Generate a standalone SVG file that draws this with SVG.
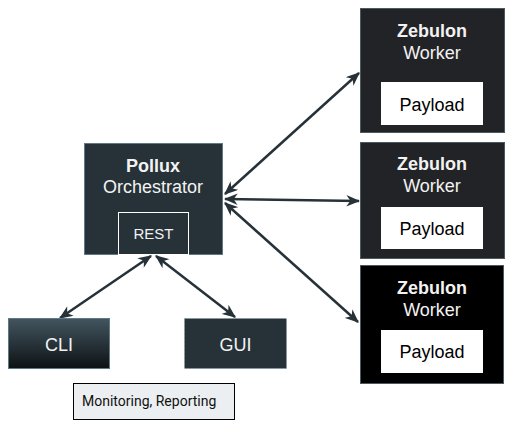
<svg xmlns="http://www.w3.org/2000/svg" width="510" height="423" viewBox="0 0 510 423">
<style>
.t{font-family:"Liberation Sans",Arial,sans-serif;fill:#f2f2f2;text-anchor:middle;font-size:18px}
.b{font-weight:bold}
.dk{font-family:"Liberation Sans",Arial,sans-serif;fill:#000;text-anchor:middle;font-size:18px}
.c{fill:none;stroke:#263238;stroke-width:2.5}
</style>
<defs>
<marker id="ah" viewBox="0 0 12 10" refX="11" refY="5" markerWidth="5.6" markerHeight="4.6" orient="auto-start-reverse" markerUnits="strokeWidth">
<path d="M0,0 L12,5 L0,10 L3.5,5 z" fill="#263238"/>
</marker>
<linearGradient id="cg" x1="0" y1="0" x2="0" y2="1">
<stop offset="0" stop-color="#435560"/>
<stop offset="1" stop-color="#0d1214"/>
</linearGradient>
</defs>
<rect width="510" height="423" fill="#fff"/>
<g id="connectors">
<line class="c" x1="225" y1="194" x2="359" y2="73" marker-start="url(#ah)" marker-end="url(#ah)"/>
<line class="c" x1="225" y1="199" x2="359" y2="201" marker-start="url(#ah)" marker-end="url(#ah)"/>
<line class="c" x1="225" y1="203" x2="358" y2="322" marker-start="url(#ah)" marker-end="url(#ah)"/>
<line class="c" x1="151" y1="256" x2="60" y2="318" marker-start="url(#ah)" marker-end="url(#ah)"/>
<line class="c" x1="156" y1="256" x2="235" y2="317" marker-start="url(#ah)" marker-end="url(#ah)"/>
</g>
<g id="pollux">
<rect x="84.5" y="143.5" width="138" height="111" fill="#263238" stroke="#5f7a86"/>
<text class="t b" x="153" y="172">Pollux</text>
<text class="t" x="153" y="193">Orchestrator</text>
</g>
<g id="rest">
<rect x="118.5" y="212.5" width="70" height="42" fill="#263238" stroke="#ffffff"/>
<text class="t" x="153.5" y="239" style="font-size:15px">REST</text>
</g>
<g id="cli">
<rect x="8.5" y="318.5" width="101" height="50" fill="url(#cg)" stroke="#5f7a86"/>
<text class="t" x="59" y="351">CLI</text>
</g>
<g id="gui">
<rect x="184.5" y="318.5" width="102" height="50" fill="#263238" stroke="#7f97a2" stroke-dasharray="1.5 2.5"/>
<text class="t" x="235.5" y="351">GUI</text>
</g>
<g id="monitoring">
<rect x="73.5" y="383.5" width="161" height="36" fill="#eceff1" stroke="#000"/>
<text x="82" y="406" font-family="Roboto,'Liberation Sans',sans-serif" font-size="14" fill="#111">Monitoring, Reporting</text>
</g>
<g id="worker1">
<rect x="360.5" y="8.5" width="144" height="124" fill="#222326" stroke="#4a5a63"/>
<text class="t b" x="432" y="37">Zebulon</text>
<text class="t" x="432" y="59">Worker</text>
<rect x="381" y="82" width="102" height="43" fill="#fff"/>
<text class="dk" x="432" y="111">Payload</text>
</g>
<g id="worker2">
<rect x="360.5" y="142.5" width="144" height="116" fill="#222326" stroke="#4a5a63"/>
<text class="t b" x="432" y="170">Zebulon</text>
<text class="t" x="432" y="192">Worker</text>
<rect x="381" y="207" width="102" height="42" fill="#fff"/>
<text class="dk" x="432" y="235">Payload</text>
</g>
<g id="worker3">
<rect x="360.5" y="265.5" width="143" height="118" fill="#000" stroke="#4a5a63"/>
<text class="t b" x="432" y="294">Zebulon</text>
<text class="t" x="432" y="316">Worker</text>
<rect x="381" y="330" width="102" height="43" fill="#fff"/>
<text class="dk" x="432" y="358">Payload</text>
</g>
</svg>
